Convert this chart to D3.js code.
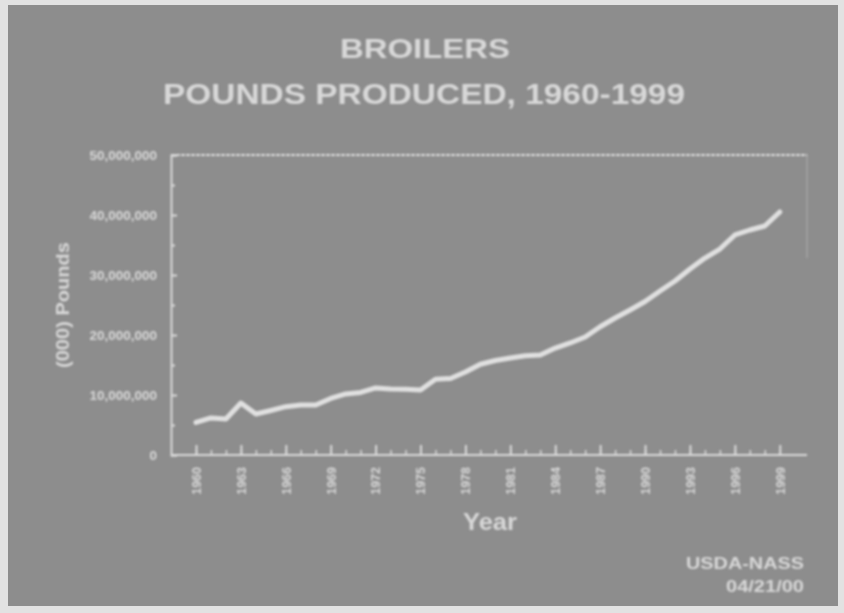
<!DOCTYPE html>
<html>
<head>
<meta charset="utf-8">
<script src="https://cdn.jsdelivr.net/npm/d3@7"></script>
<style>
  html, body { margin: 0; padding: 0; background: #e2e2e2; }
  svg { display: block; }
  text { font-family: "Liberation Sans", Arial, sans-serif; fill: #d8d8d8; }
</style>
</head>
<body>
<svg id="chart" width="844" height="613"></svg>
<script>
// Broiler production, thousand pounds, 1960-1999
const years = d3.range(1960, 2000);
const pounds = [
  5420000, 6170000, 6000000, 8670000, 6830000, 7420000, 8050000, 8330000,
  8330000, 9420000, 10170000, 10420000, 11170000, 11000000, 10950000, 10830000,
  12620000, 12750000, 13830000, 15120000, 15750000, 16170000, 16550000, 16670000,
  17830000, 18670000, 19670000, 21380000, 22830000, 24170000, 25580000, 27330000,
  29000000, 31000000, 32830000, 34330000, 36670000, 37500000, 38170000, 40500000
];
const yTickValues = [0, 10000000, 20000000, 30000000, 40000000, 50000000];
const xLabelYears = [1960, 1963, 1966, 1969, 1972, 1975, 1978, 1981, 1984, 1987, 1990, 1993, 1996, 1999];
const titleLines = ["BROILERS", "POUNDS PRODUCED, 1960-1999"];
const sourceLines = ["USDA-NASS", "04/21/00"];

const svg = d3.select("#chart");
const plot = { left: 171, right: 807, top: 155, bottom: 455 };

const defs = svg.append("defs");
defs.append("filter").attr("id", "soft")
  .attr("x", "-5%").attr("y", "-5%").attr("width", "110%").attr("height", "110%")
  .append("feGaussianBlur").attr("stdDeviation", 0.9);

// gray slide panel
svg.append("rect").attr("x", 8).attr("y", 5).attr("width", 830).attr("height", 601)
  .attr("fill", "#8d8d8d");

const g = svg.append("g").attr("filter", "url(#soft)");

const x = d3.scaleLinear()
  .domain([1958.33, 2000.82])
  .range([plot.left, plot.right]);
const y = d3.scaleLinear()
  .domain([0, 50000000])
  .range([plot.bottom, plot.top]);

// titles
g.append("text").attr("x", 425).attr("y", 58).attr("text-anchor", "middle")
  .attr("font-size", 28).attr("font-weight", "bold")
  .attr("textLength", 170).attr("lengthAdjust", "spacingAndGlyphs")
  .text(titleLines[0]);
g.append("text").attr("x", 424).attr("y", 104).attr("text-anchor", "middle")
  .attr("font-size", 29).attr("font-weight", "bold")
  .attr("textLength", 522).attr("lengthAdjust", "spacingAndGlyphs")
  .text(titleLines[1]);

const lineColor = "#dadada";

// frame: top and partial right edge
g.append("line").attr("x1", plot.left).attr("x2", plot.right)
  .attr("y1", plot.top).attr("y2", plot.top)
  .attr("stroke", lineColor).attr("stroke-width", 2).attr("stroke-dasharray", "4,1");
g.append("line").attr("x1", plot.right).attr("x2", plot.right)
  .attr("y1", plot.top).attr("y2", 258)
  .attr("stroke", lineColor).attr("stroke-width", 1).attr("stroke-dasharray", "2,1")
  .attr("opacity", 0.7);

// y axis with inward ticks
const yAxis = g.append("g").attr("transform", `translate(${plot.left},0)`)
  .call(d3.axisLeft(y).tickValues(yTickValues).tickFormat(d3.format(","))
    .tickSize(-6).tickPadding(14));
yAxis.selectAll("text").attr("font-size", 13.5).attr("font-weight", "bold")
  .attr("fill", "#d8d8d8").attr("font-family", "Liberation Sans, Arial, sans-serif");
yAxis.select(".domain").attr("stroke", lineColor).attr("stroke-width", 2);
yAxis.selectAll(".tick line").attr("stroke", lineColor).attr("stroke-width", 2);
g.append("g").attr("transform", `translate(${plot.left},0)`)
  .call(d3.axisLeft(y).tickValues([5000000, 15000000, 25000000, 35000000, 45000000])
    .tickFormat("").tickSize(-4))
  .call(s => s.select(".domain").remove())
  .selectAll(".tick line").attr("stroke", lineColor).attr("stroke-width", 2);

// x axis: yearly minor ticks, labelled major ticks
g.append("g").attr("transform", `translate(0,${plot.bottom})`)
  .call(d3.axisBottom(x).tickValues(years).tickFormat("").tickSize(-5))
  .call(s => s.select(".domain").remove())
  .selectAll(".tick line").attr("stroke", lineColor).attr("stroke-width", 1.5);
const xAxis = g.append("g").attr("transform", `translate(0,${plot.bottom})`)
  .call(d3.axisBottom(x).tickValues(xLabelYears).tickFormat(d3.format("d"))
    .tickSize(-10).tickSizeOuter(0));
xAxis.select(".domain").attr("stroke", lineColor).attr("stroke-width", 2)
  .attr("d", `M${plot.left},0H${plot.right}`);
xAxis.selectAll(".tick line").attr("stroke", lineColor).attr("stroke-width", 2);
xAxis.selectAll("text")
  .attr("font-size", 12.5).attr("font-weight", "bold").attr("fill", "#d8d8d8")
  .attr("font-family", "Liberation Sans, Arial, sans-serif")
  .attr("text-anchor", "end")
  .attr("transform", "translate(0,12) rotate(-90)")
  .attr("x", 0).attr("y", 0).attr("dy", "0.35em");

// axis titles
g.append("text").attr("transform", "translate(69,305) rotate(-90)")
  .attr("text-anchor", "middle").attr("font-size", 18).attr("font-weight", "bold")
  .attr("textLength", 126).attr("lengthAdjust", "spacingAndGlyphs")
  .text("(000) Pounds");
g.append("text").attr("x", 490).attr("y", 530).attr("text-anchor", "middle")
  .attr("font-size", 23).attr("font-weight", "bold")
  .attr("textLength", 54).attr("lengthAdjust", "spacingAndGlyphs")
  .text("Year");

// production line
const line = d3.line().x((d, i) => x(years[i])).y(d => y(d));
g.append("path").datum(pounds)
  .attr("d", line)
  .attr("fill", "none").attr("stroke", "#e0e0e0").attr("stroke-width", 5)
  .attr("stroke-linejoin", "round").attr("stroke-linecap", "round");

// source note
g.append("text").attr("x", 804).attr("y", 569).attr("text-anchor", "end")
  .attr("font-size", 16).attr("font-weight", "bold")
  .attr("textLength", 118).attr("lengthAdjust", "spacingAndGlyphs")
  .text(sourceLines[0]);
g.append("text").attr("x", 804).attr("y", 592).attr("text-anchor", "end")
  .attr("font-size", 16).attr("font-weight", "bold")
  .attr("textLength", 78).attr("lengthAdjust", "spacingAndGlyphs")
  .text(sourceLines[1]);
</script>
</body>
</html>
